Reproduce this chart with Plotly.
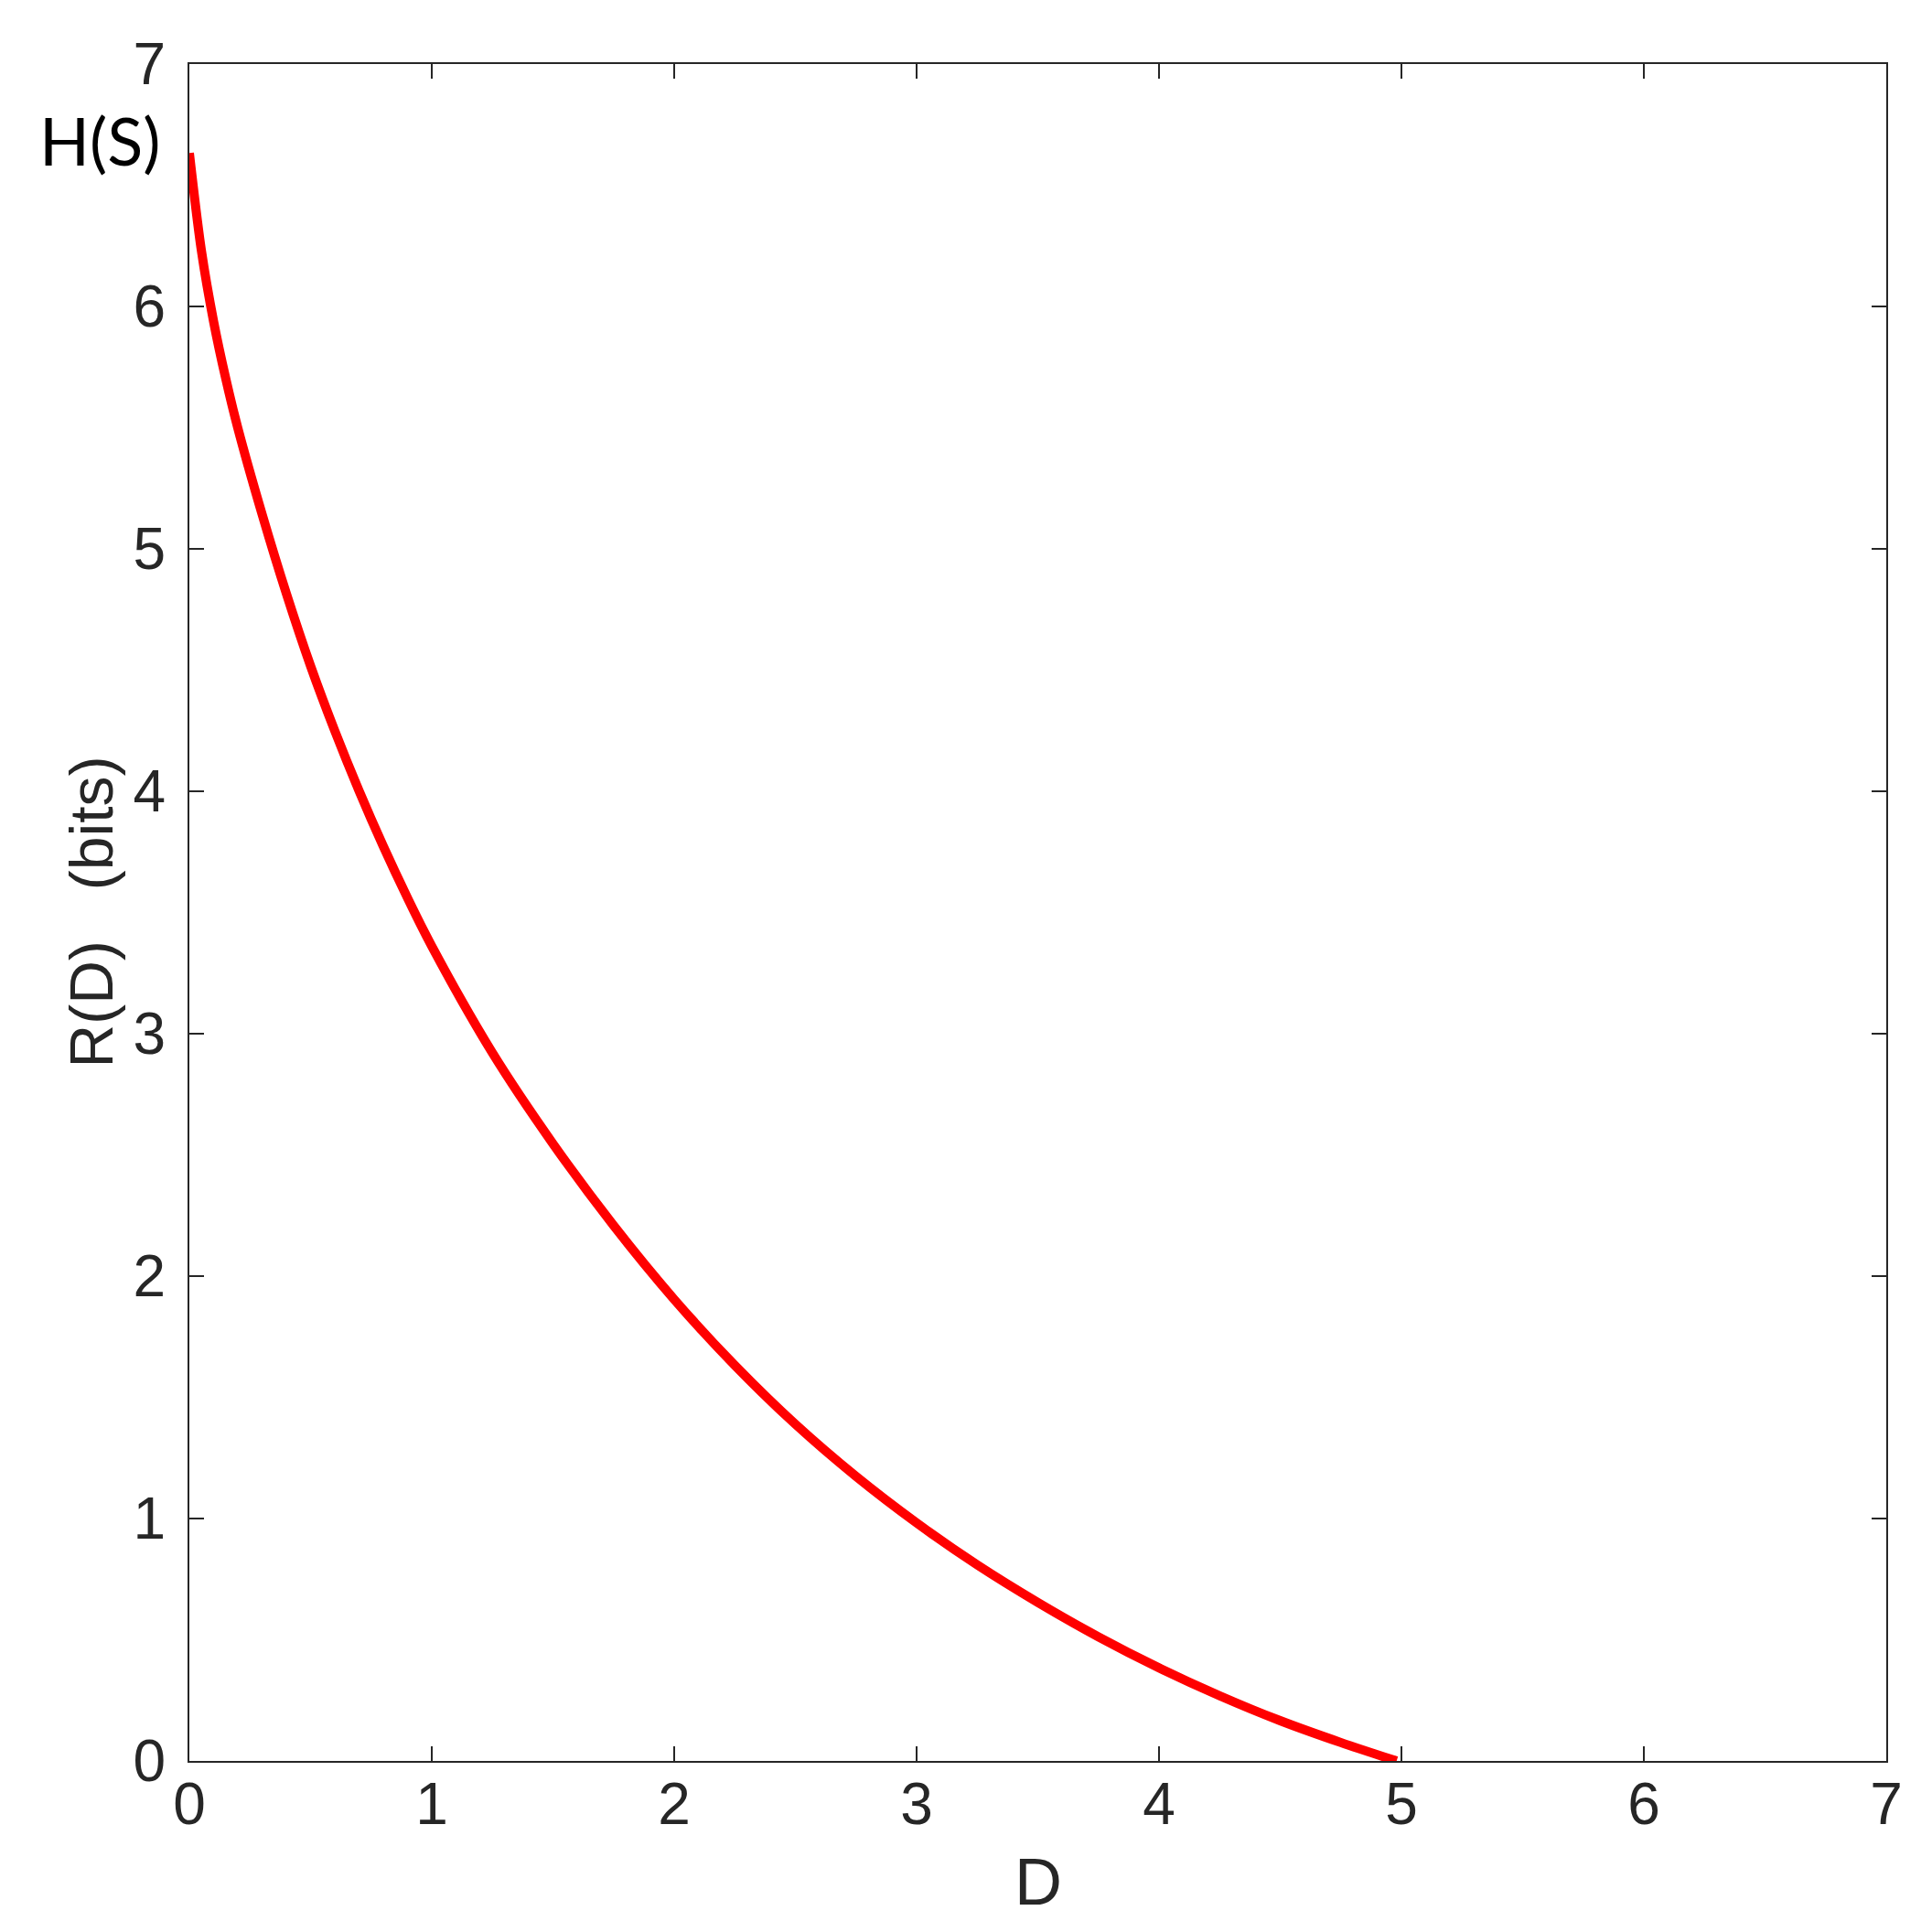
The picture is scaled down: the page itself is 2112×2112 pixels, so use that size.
import plotly.graph_objects as go

# Data (R(D) curve, bits)
D_vals = [0.00, 0.05, 0.10, 0.15, 0.20, 0.30, 0.40, 0.50, 0.60, 0.70,
          0.80, 0.90, 1.00, 1.25, 1.50, 1.75, 2.00, 2.25, 2.50, 2.75,
          3.00, 3.25, 3.50, 3.75, 4.00, 4.25, 4.50, 4.75, 4.98]
R_vals = [6.633, 6.228, 5.938, 5.703, 5.498, 5.143, 4.816, 4.517, 4.249, 4.002,
          3.773, 3.560, 3.361, 2.921, 2.546, 2.209, 1.904, 1.632, 1.389, 1.174,
          0.982, 0.809, 0.654, 0.512, 0.384, 0.269, 0.166, 0.076, 0.000]
H_S = 6.64
tick_vals = [0, 1, 2, 3, 4, 5, 6, 7]
tick_text = ["0", "1", "2", "3", "4", "5", "6", "7"]

AX = "#262626"
SANS = "Liberation Sans, Arial, Helvetica, sans-serif"
TICKFONT = dict(family=SANS, size=64, color=AX)

fig = go.Figure()
fig.add_trace(go.Scatter(
    x=D_vals, y=R_vals, mode="lines",
    line=dict(color="#ff0000", width=10, shape="spline", smoothing=0.9),
    cliponaxis=False, showlegend=False, hoverinfo="skip"))

axis_common = dict(
    range=[0, 7], tickmode="array", tickvals=tick_vals, ticktext=tick_text,
    ticks="inside", ticklen=16, tickwidth=2, tickcolor=AX,
    showline=True, linecolor=AX, linewidth=2, mirror="ticks",
    showgrid=False, zeroline=False, tickfont=TICKFONT,
)

fig.update_layout(
    width=2112, height=2112,
    margin=dict(l=199, r=58, t=62, b=195, autoexpand=False),
    paper_bgcolor="white", plot_bgcolor="white",
    xaxis=dict(**axis_common, ticklabelstandoff=-10),
    yaxis=dict(**axis_common, ticklabelstandoff=11),
    annotations=[
        dict(text="H(S)", x=0, y=H_S, xref="x", yref="y",
             xanchor="right", yanchor="middle", xshift=-30, yshift=12,
             showarrow=False,
             font=dict(family="Lato, Open Sans, sans-serif", size=72, color="black")),
        dict(text="R(D)\u00a0\u00a0\u00a0(bits)", x=0, y=0.5, xref="paper", yref="paper",
             xanchor="center", yanchor="middle", xshift=-108, textangle=-90,
             showarrow=False,
             font=dict(family=SANS, size=66, color=AX)),
        dict(text="D", x=0.5, y=0, xref="paper", yref="paper",
             xanchor="center", yanchor="middle", yshift=-132, showarrow=False,
             font=dict(family=SANS, size=72, color=AX)),
    ],
)

fig.write_html("out.html")
